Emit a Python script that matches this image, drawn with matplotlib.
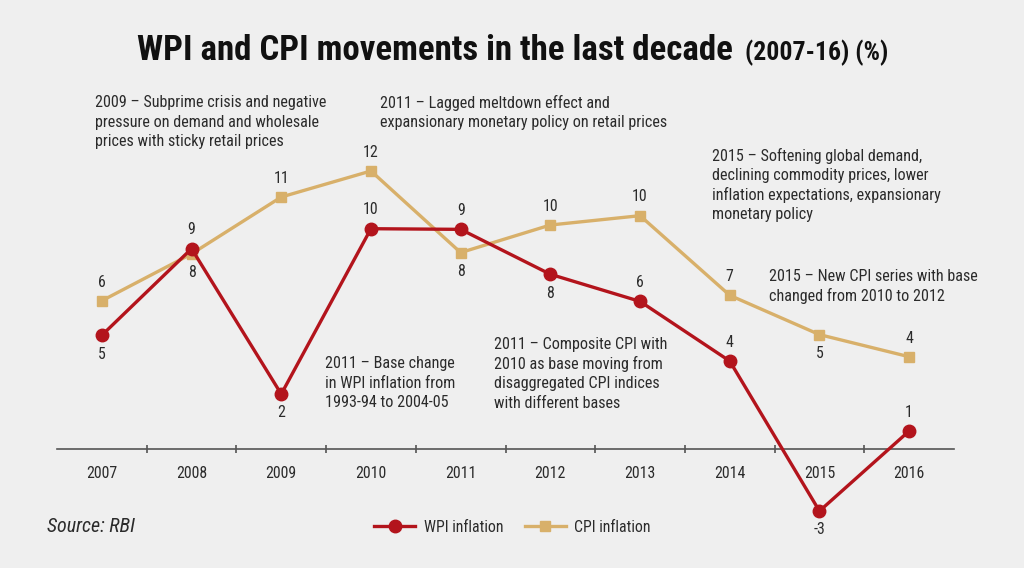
import matplotlib
matplotlib.use("Agg")
import matplotlib.pyplot as plt
from matplotlib import font_manager as fm
from matplotlib.ticker import FixedLocator

years = ["2007", "2008", "2009", "2010", "2011", "2012", "2013", "2014", "2015", "2016"]
wpi = [5.24, 9.23, 2.53, 10.15, 10.12, 8.05, 6.80, 4.05, -2.86, 0.83]
cpi = [6.83, 8.99, 11.61, 12.81, 9.05, 10.32, 10.75, 7.08, 5.27, 4.25]
wpi_labels = ["5", "9", "2", "10", "9", "8", "6", "4", "-3", "1"]
cpi_labels = ["6", "8", "11", "12", "8", "10", "10", "7", "5", "4"]
# label placement: +1 above, -1 below
wpi_side = [-1, 1, -1, 1, 1, -1, 1, 1, -1, 1]
cpi_side = [1, -1, 1, 1, -1, 1, 1, 1, -1, 1]

# (left px, first-line baseline px, text)
notes = [
    (95, 107, "2009 – Subprime crisis and negative\npressure on demand and wholesale\nprices with sticky retail prices"),
    (380, 108, "2011 – Lagged meltdown effect and\nexpansionary monetary policy on retail prices"),
    (712, 161, "2015 – Softening global demand,\ndeclining commodity prices, lower\ninflation expectations, expansionary\nmonetary policy"),
    (769, 281, "2015 – New CPI series with base\nchanged from 2010 to 2012"),
    (325, 368, "2011 – Base change\nin WPI inflation from\n1993-94 to 2004-05"),
    (494, 349, "2011 – Composite CPI with\n2010 as base moving from\ndisaggregated CPI indices\nwith different bases"),
]

# ---- font choice: prefer a narrow sans, else Liberation Sans ----
names = {f.name for f in fm.fontManager.ttflist}
family, stretch = "Liberation Sans", "normal"
for n in ["Liberation Sans Narrow", "Arial Narrow", "Roboto Condensed",
          "Open Sans Condensed", "Noto Sans Condensed"]:
    if n in names:
        family = n
        break
else:
    for n in ["Noto Sans", "Open Sans"]:
        if any(f.name == n and "condensed" in str(f.stretch) for f in fm.fontManager.ttflist):
            family, stretch = n, "condensed"
            break
plt.rcParams["font.family"] = [family, "DejaVu Sans"]
plt.rcParams["font.stretch"] = stretch

BG = "#efefef"
RED = "#b3141c"
TAN = "#d8b06a"
TXT = "#2b2b2b"

W, H = 1024, 568
fig = plt.figure(figsize=(W / 100, H / 100), dpi=100, facecolor=BG)
renderer = fig.canvas.get_renderer()


def fit(text, target_px, **kw):
    t = fig.text(0, 0, text, fontsize=10, **kw)
    w = t.get_window_extent(renderer).width
    t.remove()
    return 10 * target_px / w


fs_note = (fit("2015 – New CPI series with base", 209) +
           fit("expansionary monetary policy on retail prices", 285) +
           fit("2009 – Subprime crisis and negative", 230)) / 3
fs_year = fit("2007", 31)
fs_lab = fs_year
fs_leg = fit("WPI inflation", 79)
fs_src = fit("Source: RBI", 88, style="italic")
fs_title = fit("WPI and CPI movements in the last decade", 596, fontweight="bold")
fs_sub = fit("(2007-16) (%)", 144, fontweight="bold")
STEP = 19.5  # px between note lines

ax = fig.add_axes([57 / W, 1 - 535.8 / H, 897 / W, (535.8 - 156) / H])
ax.set_facecolor(BG)

x = list(range(len(years)))
ax.plot(x, cpi, color=TAN, lw=2.4, marker="s", ms=7.5, label="CPI inflation", zorder=3)
ax.plot(x, wpi, color=RED, lw=2.4, marker="o", ms=9, label="WPI inflation", zorder=4)

for xi, v, lab, s in zip(x, wpi, wpi_labels, wpi_side):
    ax.annotate(lab, (xi, v), xytext=(0, 13.5 * s), textcoords="offset points",
                ha="center", va="center", fontsize=fs_lab, color=TXT)
for xi, v, lab, s in zip(x, cpi, cpi_labels, cpi_side):
    ax.annotate(lab, (xi, v), xytext=(0, 13.5 * s), textcoords="offset points",
                ha="center", va="center", fontsize=fs_lab, color=TXT)

ax.set_xlim(-0.5, 9.5)
ax.set_ylim(-4, 13.5)
for sp in ["top", "right", "left"]:
    ax.spines[sp].set_visible(False)
ax.spines["bottom"].set_position(("data", 0))
ax.spines["bottom"].set_color("#555555")
ax.spines["bottom"].set_linewidth(1.2)
ax.set_yticks([])
ax.set_xticks(x)
ax.set_xticklabels(years, fontsize=fs_year, color=TXT)
ax.tick_params(axis="x", which="major", length=0, pad=12)
ax.xaxis.set_minor_locator(FixedLocator([i + 0.5 for i in range(9)]))
ax.tick_params(axis="x", which="minor", length=6, width=1.2, color="#555555", direction="inout")

for px, py, t in notes:
    for i, line in enumerate(t.split("\n")):
        fig.text(px / W, 1 - (py + i * STEP) / H, line, ha="left", va="baseline",
                 fontsize=fs_note, color=TXT)

# title
fig.text(137 / W, 1 - 60 / H, "WPI and CPI movements in the last decade", ha="left",
         va="baseline", fontsize=fs_title, fontweight="bold", color="#111111")
fig.text(745 / W, 1 - 60 / H, "(2007-16) (%)", ha="left", va="baseline",
         fontsize=fs_sub, fontweight="bold", color="#111111")

fig.text(47 / W, 1 - 527 / H, "Source: RBI", ha="left", va="center", fontsize=fs_src,
         style="italic", color=TXT)

fpx = fs_leg * 100 / 72
h, l = ax.get_legend_handles_labels()
leg = fig.legend(h[::-1], l[::-1], loc="center left", bbox_to_anchor=(374 / W, 1 - 527 / H),
                 ncol=2, frameon=False, fontsize=fs_leg, handlelength=41 / fpx,
                 handletextpad=9 / fpx, columnspacing=21 / fpx, borderpad=0,
                 borderaxespad=0, labelcolor=TXT)

fig.savefig("out.png", dpi=100, facecolor=BG)
